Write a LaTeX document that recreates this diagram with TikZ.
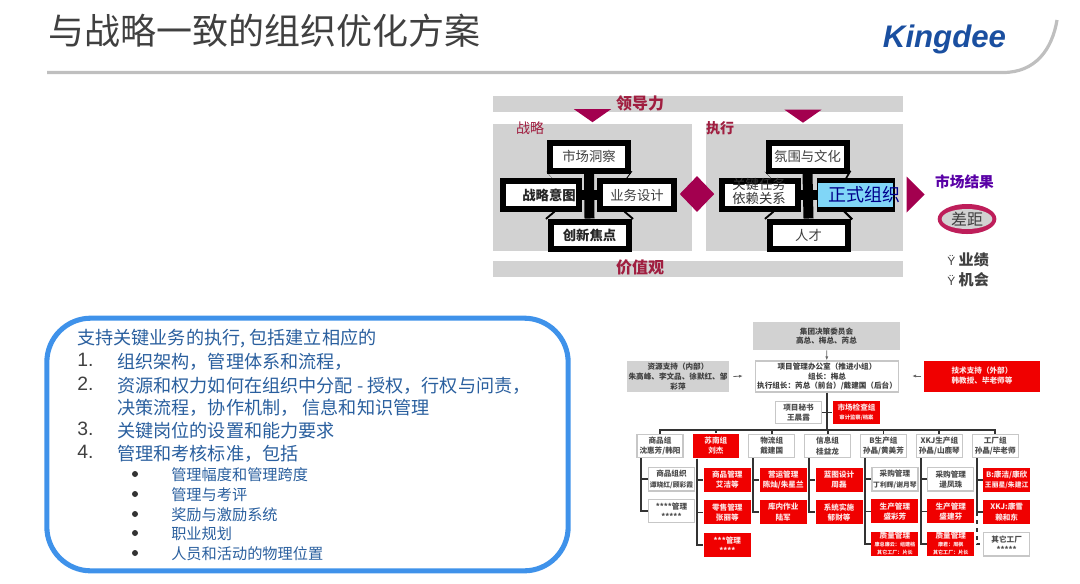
\documentclass[tikz,border=0pt]{standalone}
\usepackage{fontspec}
\setmainfont{Noto Sans CJK SC}
\newfontfamily\logofont{Liberation Sans}
\usepackage{xcolor}
\usetikzlibrary{arrows.meta,positioning,shapes.geometric}
\definecolor{bandgray}{HTML}{D2D2D2}
\definecolor{maroon}{HTML}{A3004F}
\definecolor{labelred}{HTML}{A01E40}
\definecolor{listblue}{HTML}{2A5F9E}
\definecolor{framblue}{HTML}{3F92EA}
\definecolor{orgred}{HTML}{F00000}
\definecolor{logoblue}{HTML}{1A4FA0}
\definecolor{ringred}{HTML}{BE1E5A}
\newcommand{\tinyline}{\fontsize{3.8}{4.6}\selectfont}
\newcommand{\narrowline}{\fontsize{5.1}{7.6}\selectfont}
\begin{document}
\begin{tikzpicture}[
x=0.75pt, y=-0.75pt,
band/.style={fill=bandgray, minimum width=307.5pt, minimum height=12pt, inner sep=0pt},
panel/.style={fill=bandgray, minimum height=95.25pt, inner sep=0pt},
bandtext/.style={text=labelred, font=\bfseries\fontsize{12}{14}\selectfont, inner sep=0pt},
cross/.style={draw=black, line width=4.5pt, fill=white, minimum width=58.5pt, minimum height=21pt, inner sep=0pt, text=black!75, font=\fontsize{10}{12}\selectfont},
crossbold/.style={cross, font=\bfseries\fontsize{10}{12}\selectfont, text=black!85},
bar/.style={line width=7.5pt, black},
diag/.style={line width=8.5pt, black, shorten >=2.5pt, shorten <=2.5pt},
tip/.style={fill=maroon, draw=none},
sidebox/.style={minimum width=76.5pt, minimum height=23.25pt, inner sep=0pt, align=center, font=\bfseries\fontsize{5.7}{7.4}\selectfont, text=black!75},
whitebox/.style={draw=black!22, line width=0.9pt, fill=white, minimum width=34.5pt, minimum height=17.5pt, inner sep=0pt, align=center, font=\bfseries\fontsize{5.7}{7.6}\selectfont, text=black!70},
redbox/.style={whitebox, draw=none, fill=orgred, minimum width=35.25pt, minimum height=18pt, text=white!90!orgred},
tree/.style={line width=1.4pt, black!80},
thinarrow/.style={-{Latex[length=3pt]}, line width=0.6pt, black!60},
listitem/.style={anchor=west, inner sep=0pt, yshift=-1pt, text=listblue, font=\fontsize{13.6}{15}\selectfont},
listnum/.style={anchor=west, inner sep=0pt, text=black!75, font=\logofont\fontsize{14.5}{15}\selectfont},
subitem/.style={anchor=west, inner sep=0pt, yshift=-0.6pt, text=listblue, font=\fontsize{11.4}{13}\selectfont},
subdot/.style={circle, fill=black!80, minimum size=4.5pt, inner sep=0pt}
]
\useasboundingbox (0,0) rectangle (1080,583);
% title
\node[anchor=west, inner sep=0pt, text=black!75, font=\fontsize{27}{30}\selectfont] (title) at (48,31) {与战略一致的组织优化方案};
\node[inner sep=0pt, text=logoblue, font=\logofont\bfseries\itshape\fontsize{23.4}{28}\selectfont] (logo) at (944.5,39) {Kingdee};
\draw[line width=2.4pt, black!25] (47,72.5) -- (1003,72.5) .. controls (1035,72.5) and (1052,50) .. (1057,20);
% bands and panels
\node[band] (lead) at (698,104) {};
\node[band] (value) at (698,269) {};
\node[bandtext] (leadtext) at (640,103) {领导力};
\node[bandtext] (valuetext) at (640,267) {价值观};
\node[panel, minimum width=149.25pt] (stratpanel) at (592.5,187.5) {};
\node[panel, minimum width=147.75pt] (execpanel) at (804.5,187.5) {};
\node[tip, isosceles triangle, isosceles triangle apex angle=110, shape border rotate=-90, inner sep=0pt, minimum width=28pt, minimum height=9pt] (tipa) at (592.5,115) {};
\node[tip, isosceles triangle, isosceles triangle apex angle=110, shape border rotate=-90, inner sep=0pt, minimum width=28pt, minimum height=9pt] (tipb) at (803,115.5) {};
\node[inner sep=0pt, text=labelred, font=\fontsize{10.5}{12}\selectfont] (stratlabel) at (530,128) {战略};
\node[inner sep=0pt, text=labelred, font=\bfseries\fontsize{10.5}{12}\selectfont] (execlabel) at (720,128) {执行};
% strategy cross
\node[cross] (market) at (589,156.5) {市场洞察};
\node[crossbold, minimum width=57pt] (intent) at (541,195) {\hspace*{12pt}战略意图};
\node[cross, minimum width=55.5pt] (design) at (637,195) {业务设计};
\node[crossbold, minimum width=58.5pt, minimum height=20.25pt] (innovate) at (589.5,235) {创新焦点};
\draw[bar] (market.south) -- (innovate.north);
\draw[bar] (intent.east) -- (design.west);
\draw[diag] ([xshift=4.1pt]market.south west) -- ([xshift=-25.9pt]intent.north east);
\draw[diag] ([xshift=-4.1pt]market.south east) -- ([xshift=25.9pt]design.north west);
\draw[diag] ([xshift=4.1pt]innovate.north west) -- ([xshift=-25.9pt]intent.south east);
\draw[diag] ([xshift=-4.1pt]innovate.north east) -- ([xshift=25.9pt]design.south west);
% execution cross
\node[cross] (climate) at (807.5,156.5) {氛围与文化};
\node[cross, minimum width=57pt] (task) at (760,195) {};
\node[fill=black, minimum width=58.5pt, minimum height=25.5pt, inner sep=0pt] (formalback) at (856,195) {};
\node[fill=cyan!50!white, minimum width=56.25pt, minimum height=18pt, inner sep=0pt] (formal) at (855.5,195) {};
\node[cross, minimum height=20.25pt] (talent) at (808.5,235) {人才};
\draw[bar] (climate.south) -- (talent.north);
\draw[bar] (task.east) -- (formalback.west);
\draw[diag] ([xshift=4.1pt]climate.south west) -- ([xshift=-25.9pt]task.north east);
\draw[diag] ([xshift=-4.1pt]climate.south east) -- ([xshift=25.9pt]formalback.north west);
\draw[diag] ([xshift=4.1pt]talent.north west) -- ([xshift=-25.9pt]task.south east);
\draw[diag] ([xshift=-4.1pt]talent.north east) -- ([xshift=25.9pt]formalback.south west);
\node[inner sep=0pt, align=center, text=black!80, font=\fontsize{10}{10.5}\selectfont] (tasktext) at (759,191) {关键任务\\依赖关系};
\node[inner sep=0pt, text=blue!55!black, font=\fontsize{13.5}{15}\selectfont] (formaltext) at (864,195) {正式组织};
% diamond and result side
\node[tip, diamond, minimum width=26pt, minimum height=27pt, inner sep=0pt] (link) at (697,194) {};
\node[tip, isosceles triangle, isosceles triangle apex angle=90, inner sep=0pt, minimum height=13.5pt, minimum width=26pt] (toresult) at (914,194.5) {};
\node[inner sep=0pt, text=violet!70!blue, font=\bfseries\fontsize{11}{13}\selectfont] (result) at (964.5,182) {市场结果};
\node[ellipse, fill=ringred, minimum width=44pt, minimum height=22.5pt, inner sep=0pt] (gapring) at (967,219) {};
\node[ellipse, fill=bandgray, minimum width=38pt, minimum height=10.5pt, inner sep=0pt, text=black!75, font=\fontsize{12}{12}\selectfont] (gap) at (gapring) {差距};
\node[anchor=west, inner sep=0pt, text=black!75, font=\bfseries\fontsize{11.3}{13}\selectfont] (perf) at (947,260) {{\logofont\mdseries\fontsize{9}{11}\selectfont Ÿ} 业绩};
\node[anchor=west, inner sep=0pt, text=black!75, font=\bfseries\fontsize{11.3}{13}\selectfont] (chance) at (947,280) {{\logofont\mdseries\fontsize{9}{11}\selectfont Ÿ} 机会};
% list frame
\node[draw=framblue, line width=3.8pt, rounded corners=33pt, minimum width=391pt, minimum height=189.5pt, inner sep=0pt] (frame) at (307.5,444.5) {};
\node[listitem] (intro) at (77,337) {支持关键业务的执行, 包括建立相应的};
\node[listnum] (numa) at (77,360) {1.};
\node[listitem] (itema) at (117,360) {组织架构，管理体系和流程，};
\node[listnum] (numb) at (77,384) {2.};
\node[listitem] (itemb) at (117,384) {资源和权力如何在组织中分配 - 授权，行权与问责，};
\node[listitem] (itemc) at (117,406) {决策流程，协作机制， 信息和知识管理};
\node[listnum] (numc) at (77,429) {3.};
\node[listitem] (itemd) at (117,429) {关键岗位的设置和能力要求};
\node[listnum] (numd) at (77,452) {4.};
\node[listitem] (iteme) at (117,452) {管理和考核标准，包括};
\foreach \y/\t in {474/管理幅度和管理跨度,494/管理与考评,514/奖励与激励系统,533/职业规划,553/人员和活动的物理位置}{
  \node[subdot] (dot\y) at (135,\y) {};
  \node[subitem] (sub\y) at (171,\y) {\t};
}
% org chart top
\node[sidebox, fill=bandgray, minimum width=110pt, minimum height=21pt] (board) at (826.5,336) {集团决策委员会\\高总、梅总、芮总};
\node[sidebox, draw=black!22, line width=0.9pt, fill=white, minimum width=107pt] (pmo) at (827,376.5) {项目管理办公室（推进小组）\\组长：梅总\\执行组长：芮总（前台）/戴建国（后台）};
\node[sidebox, fill=bandgray] (inner) at (678,376.5) {资源支持（内部）\\朱高峰、李文品、徐默红、邹\\彩萍};
\node[sidebox, fill=orgred, minimum width=87pt, text=white!90!orgred] (outer) at (982,376) {技术支持（外部）\\韩教授、毕老师等};
\node[whitebox, minimum width=35pt, minimum height=17pt] (clerk) at (798.5,412.5) {项目秘书\\王晨露};
\node[redbox, minimum height=17pt, font=\bfseries\fontsize{5.7}{7}\selectfont] (audit) at (856.5,412.5) {市场检查组\\\fontsize{4}{5}\selectfont 审计监察/档案};
\coordinate (busmid) at (827,430);
\coordinate (innerend) at (743,376);
\coordinate (outerend) at (912,376);
\draw[thinarrow] (board) -- (pmo);
\draw[thinarrow] ([xshift=3pt]inner.east) -- (innerend);
\draw[thinarrow] ([xshift=-2pt]outer.west) -- (outerend);
\draw[tree] (pmo.south) -- (busmid);
\draw[tree] (clerk) -- (audit);
% groups
\node[whitebox] (gshop) at (660,446) {商品组\\沈惠芳/韩阳};
\node[redbox, right=6.5pt of gshop, minimum width=34.5pt] (gsouth) {苏南组\\刘杰};
\node[whitebox, right=6.5pt of gsouth] (glog) {物流组\\戴建国};
\node[whitebox, right=6.5pt of glog] (ginfo) {信息组\\桂益龙};
\node[whitebox, right=6.5pt of ginfo] (gb) {B生产组\\孙晶/黄美芳};
\node[whitebox, right=6.5pt of gb] (gx) {XKJ生产组\\孙晶/山鹿琴};
\node[whitebox, right=6.5pt of gx] (gfac) {工厂组\\孙晶/毕老师};
\foreach \g in {gshop,gsouth,glog,ginfo,gb,gx,gfac}
  \draw[tree] (\g.north) |- (busmid);
% children
\node[whitebox, below=6.6pt of gshop, xshift=8.6pt] (shopa) {商品组织\\\narrowline 谭晓红/顾彩霞};
\node[whitebox, below=5.45pt of shopa] (shopb) {****管理\\*****};
\node[redbox, below=6.6pt of gsouth, xshift=8.6pt] (southa) {商品管理\\艾洁等};
\node[redbox, below=5.45pt of southa] (southb) {零售管理\\张丽等};
\node[redbox, below=5.45pt of southb] (southc) {***管理\\****};
\node[redbox, below=6.6pt of glog, xshift=8.6pt] (loga) {营运管理\\陈灿/朱星兰};
\node[redbox, below=5.45pt of loga] (logb) {库内作业\\陆军};
\node[redbox, below=6.6pt of ginfo, xshift=8.6pt] (infoa) {蓝图设计\\周磊};
\node[redbox, below=5.45pt of infoa] (infob) {系统实施\\郁财等};
\node[whitebox, below=6.6pt of gb, xshift=8.6pt] (ba) {采购管理\\\narrowline 丁利辉/谢月琴};
\node[redbox, below=5.45pt of ba] (bb) {生产管理\\盛彩芳};
\node[redbox, below=5.45pt of bb, font=\bfseries\fontsize{5.7}{6}\selectfont] (bc) {质量管理\\\tinyline 康总廉云：组建档\\\tinyline 其它工厂：片长};
\node[whitebox, below=6.6pt of gx, xshift=8.6pt] (xa) {采购管理\\逯凤珠};
\node[redbox, below=5.45pt of xa] (xb) {生产管理\\盛建芬};
\node[redbox, below=5.45pt of xb, font=\bfseries\fontsize{5.7}{6}\selectfont] (xc) {质量管理\\\tinyline 康君：周枫\\\tinyline 其它工厂：片长};
\node[redbox, below=6.6pt of gfac, xshift=8.6pt] (faca) {B:康洁/康欣\\\narrowline 王丽星/朱建江};
\node[redbox, below=5.45pt of faca] (facb) {XKJ:康雪\\赖和东};
\node[whitebox, below=5.45pt of facb] (facc) {其它工厂\\*****};
\foreach \g/\c in {gshop/shopa,gshop/shopb,gsouth/southa,gsouth/southb,gsouth/southc,glog/loga,glog/logb,ginfo/infoa,ginfo/infob,gb/ba,gb/bb,gb/bc,gx/xa,gx/xb,gx/xc,gfac/faca,gfac/facb}
  \draw[tree] ([xshift=3.75pt]\g.south west) |- (\c.west);
\draw[tree, dashed] ([xshift=3.75pt]gfac.south west |- facb.west) |- (facc.west);
\end{tikzpicture}
\end{document}
